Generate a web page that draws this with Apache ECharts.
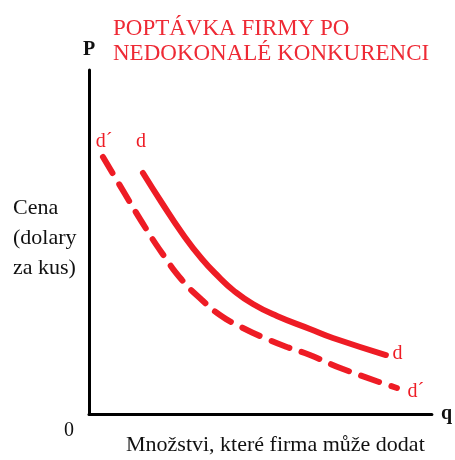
<!DOCTYPE html>
<html>
<head>
<meta charset="utf-8">
<script src="https://cdn.jsdelivr.net/npm/echarts@6/dist/echarts.min.js"></script>
<style>
  html, body { margin: 0; padding: 0; background: #fff; }
  #chart { width: 455px; height: 460px; }
</style>
</head>
<body>
<div id="chart"></div>
<script>
// krivka d (plna) -- mnozstvi a cena
var dQ = [1.574, 2.128, 2.711, 3.294, 3.819, 4.198, 4.781, 5.481, 6.443, 7.114, 8.659]
var dP = [7.006, 6.134, 5.262, 4.506, 3.953, 3.605, 3.198, 2.849, 2.471, 2.209, 1.715]
// krivka d' (carkovana)
var d2Q = [0.408, 1.050, 1.633, 2.128, 2.711, 3.294, 3.819, 4.490, 5.190, 5.773, 6.443, 7.405, 8.980]
var d2P = [7.471, 6.395, 5.436, 4.680, 3.895, 3.314, 2.878, 2.500, 2.180, 1.948, 1.715, 1.308, 0.756]
var curveNames = ['d', 'd´']

var red = '#ee1c25'
var serif = "'Liberation Serif', 'Times New Roman', serif"

function buildData (qs, ps, name, startLbl, endLbl) {
  return qs.map(function (q, i) {
    var item = { value: [q, ps[i]] }
    if (i === 0) item.label = Object.assign({ show: true, formatter: name }, startLbl)
    if (i === qs.length - 1) item.label = Object.assign({ show: true, formatter: name }, endLbl)
    return item
  })
}

var labelBase = { color: red, fontFamily: serif, fontSize: 20 }

var chart = echarts.init(document.getElementById('chart'))
var option = {
  backgroundColor: '#fff',
  animation: false,
  title: {
    text: 'POPTÁVKA FIRMY PO\nNEDOKONALÉ KONKURENCI',
    left: 108,
    top: 11,
    textStyle: {
      color: '#ee2a35',
      fontFamily: serif,
      fontWeight: 'normal',
      fontSize: 23,
      lineHeight: 25
    }
  },
  grid: { left: 89, top: 70, right: 23, bottom: 46 },
  xAxis: {
    type: 'value',
    min: 0,
    max: 10,
    name: 'q',
    nameGap: 9,
    nameTextStyle: { color: '#111', fontFamily: serif, fontWeight: 'bold', fontSize: 20, verticalAlign: 'middle' },
    axisLine: { show: true, lineStyle: { color: '#000', width: 3 } },
    axisTick: { show: false },
    axisLabel: { show: false },
    splitLine: { show: false }
  },
  yAxis: {
    type: 'value',
    min: 0,
    max: 10,
    name: 'P',
    nameGap: 10,
    nameTextStyle: { color: '#111', fontFamily: serif, fontWeight: 'bold', fontSize: 20, align: 'center' },
    axisLine: { show: true, lineStyle: { color: '#000', width: 3 } },
    axisTick: { show: false },
    axisLabel: { show: false },
    splitLine: { show: false }
  },
  graphic: [
    { type: 'text', left: 64, top: 421, style: { text: '0', fill: '#111', font: '20px ' + serif } },
    { type: 'text', left: 126, top: 434, style: { text: 'Množstvi, které firma může dodat', fill: '#111', font: '22px ' + serif } },
    { type: 'text', left: 13, top: 193, style: { text: 'Cena\n(dolary\nza kus)', fill: '#111', font: '22px ' + serif, lineHeight: 30 } }
  ],
  series: [
    {
      name: curveNames[0],
      type: 'line',
      smooth: 0.5,
      symbol: 'circle',
      symbolSize: 1,
      itemStyle: { color: 'rgba(0,0,0,0)' },
      lineStyle: { color: red, width: 6, cap: 'round' },
      data: buildData(dQ, dP, curveNames[0],
        Object.assign({ position: 'top', distance: 21, offset: [-2, 0] }, labelBase),
        Object.assign({ position: 'right', distance: 6, offset: [0, -1] }, labelBase))
    },
    {
      name: curveNames[1],
      type: 'line',
      smooth: 0.5,
      symbol: 'circle',
      symbolSize: 1,
      itemStyle: { color: 'rgba(0,0,0,0)' },
      lineStyle: { color: red, width: 6, type: [19, 13], cap: 'round' },
      data: buildData(d2Q, d2P, curveNames[1],
        Object.assign({ position: 'top', distance: 5, offset: [1, 0] }, labelBase),
        Object.assign({ position: 'right', distance: 10, offset: [0, 4] }, labelBase))
    }
  ]
}
chart.setOption(option)
</script>
</body>
</html>
